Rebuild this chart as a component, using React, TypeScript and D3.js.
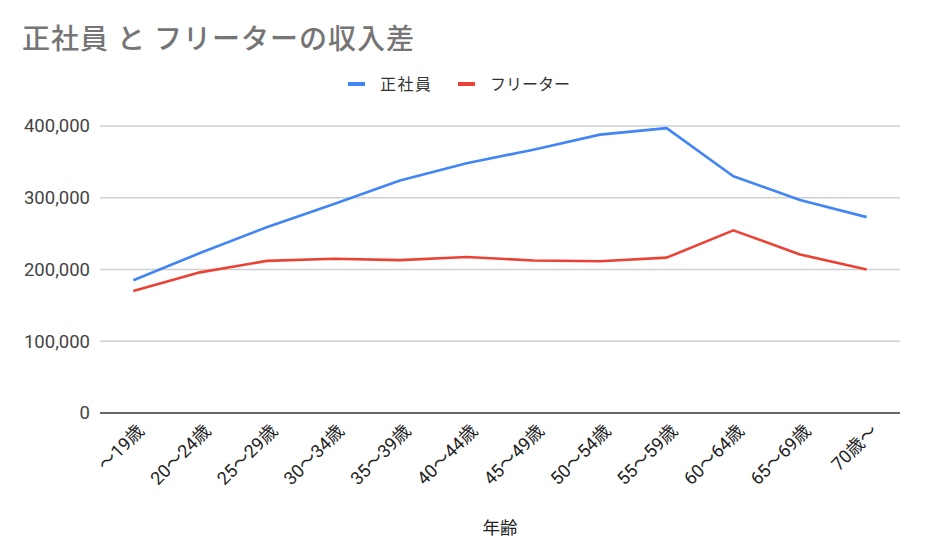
import React, { useEffect } from "react";
import * as d3 from "d3";

const categories = ["〜19歳", "20〜24歳", "25〜29歳", "30〜34歳", "35〜39歳", "40〜44歳", "45〜49歳", "50〜54歳", "55〜59歳", "60〜64歳", "65〜69歳", "70歳〜"];
const seishain = [185000, 223000, 259000, 291000, 324000, 348000, 367000, 388000, 397000, 330000, 297000, 273000];
const freeter = [170000, 196000, 212000, 215000, 213000, 217500, 212500, 211500, 216500, 254500, 221000, 200000];
const yTicks = [0, 100000, 200000, 300000, 400000];
const seriesNames = ["正社員", "フリーター"];
const colors = ["#4285F4", "#EA4335"];

const W = 943, H = 552;
const M = { left: 100, right: 43, top: 126, bottom: 139 };
const FONT = "Roboto, 'Noto Sans CJK JP', sans-serif";

export default function App() {
  useEffect(() => {
    document.body.style.margin = "0";
  }, []);
  const x = d3.scaleBand().domain(categories).range([M.left, W - M.right]);
  const y = d3.scaleLinear().domain([0, 400000]).range([H - M.bottom, M.top]);
  const line = d3.line<number>()
    .x((_, i) => (x(categories[i]) as number) + x.bandwidth() / 2)
    .y((d) => y(d));
  const fmt = d3.format(",");
  const series = [seishain, freeter];
  return (
    <svg width={W} height={H} style={{ display: "block", background: "#fff" }} fontFamily={FONT}>
      <text x={22} y={49} fontSize={28} letterSpacing={1} fill="#757575" fontWeight={500}>正社員 と フリーターの収入差</text>
      {/* legend */}
      <g>
        <line x1={348} x2={365} y1={84} y2={84} stroke={colors[0]} strokeWidth={4} />
        <text x={380} y={90} fontSize={16} letterSpacing={1.5} fill="#333">{seriesNames[0]}</text>
        <line x1={458} x2={475} y1={84} y2={84} stroke={colors[1]} strokeWidth={4} />
        <text x={490} y={90} fontSize={16} fill="#333">{seriesNames[1]}</text>
      </g>
      {yTicks.map((t) => (
        <g key={t}>
          {t !== 0 && (
            <line x1={M.left} x2={W - M.right} y1={y(t)} y2={y(t)} stroke="#d0d0d0" strokeWidth={1.3} />
          )}
          <text x={90} y={y(t)} dy="0.35em" textAnchor="end" fontSize={18.5} fill="#444">{fmt(t)}</text>
        </g>
      ))}
      <line x1={M.left} x2={W - M.right} y1={y(0)} y2={y(0)} stroke="#333" strokeWidth={1.3} />
      {series.map((s, i) => (
        <path key={i} d={line(s) || ""} fill="none" stroke={colors[i]} strokeWidth={2.6} strokeLinejoin="round" />
      ))}
      {categories.map((c) => {
        const cx = (x(c) as number) + x.bandwidth() / 2 + 12;
        const cy = y(0) + 19;
        return (
          <text key={c} x={cx} y={cy} transform={`rotate(-45 ${cx} ${cy})`} textAnchor="end" fontSize={18} fill="#222">{c}</text>
        );
      })}
      <text x={(M.left + W - M.right) / 2} y={534} textAnchor="middle" fontSize={17.5} fill="#222">年齢</text>
    </svg>
  );
}
